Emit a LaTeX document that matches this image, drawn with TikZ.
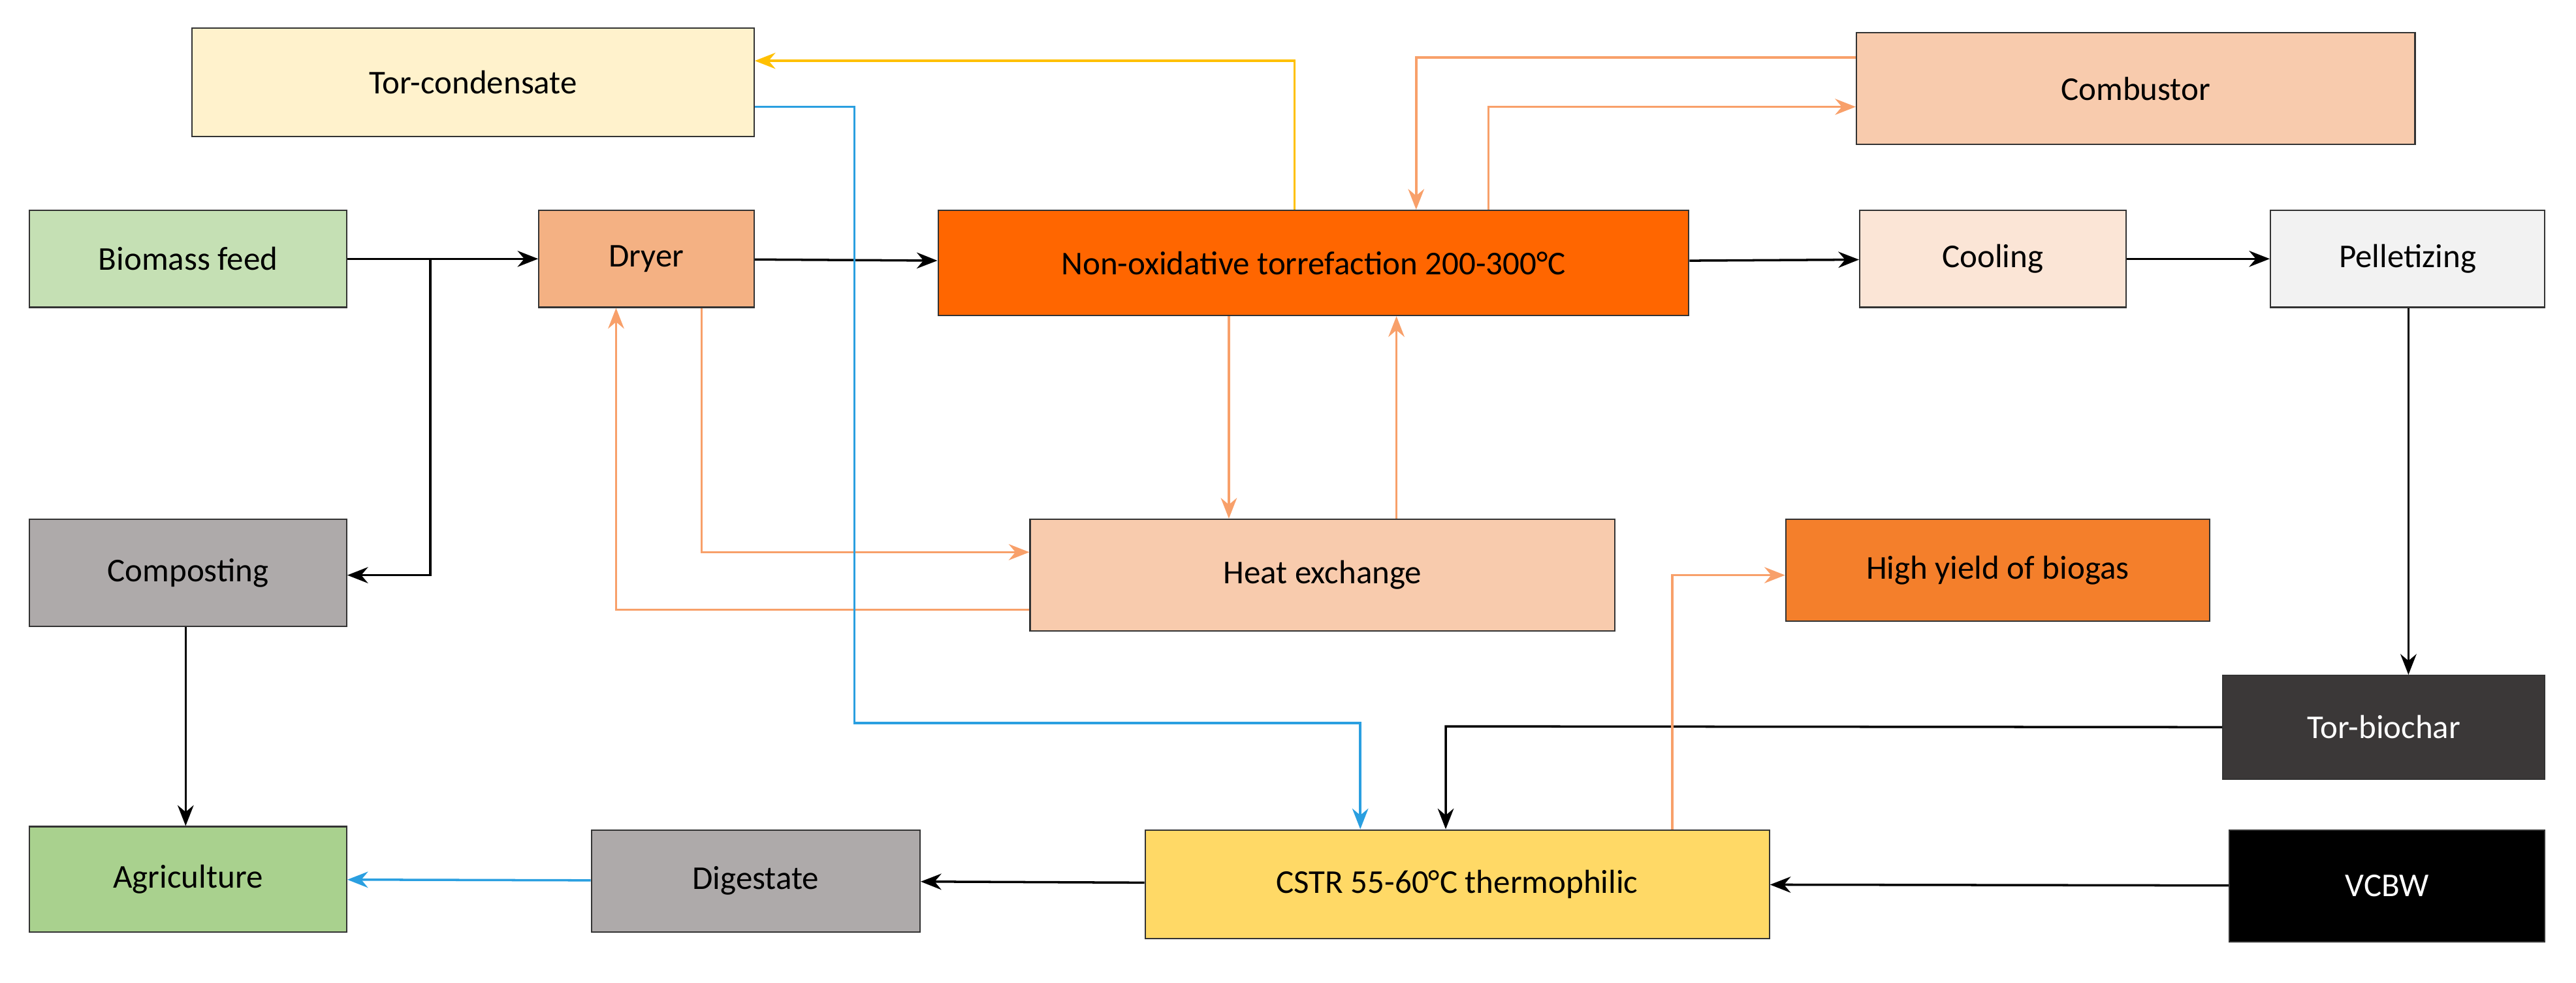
\documentclass[tikz,border=0pt]{standalone}
\usepackage{fontspec}
\setmainfont{Carlito}
\usetikzlibrary{arrows.meta}
\definecolor{arrO}{HTML}{F8A06A}
\definecolor{arrY}{HTML}{FFC000}
\definecolor{arrB}{HTML}{2A9FE0}
\definecolor{cA}{HTML}{FFF2CC}\definecolor{cB}{HTML}{F8CBAD}\definecolor{cC}{HTML}{C5E0B4}
\definecolor{cD}{HTML}{F4B183}\definecolor{cE}{HTML}{FF6600}\definecolor{cF}{HTML}{FBE5D6}
\definecolor{cG}{HTML}{F2F2F2}\definecolor{cH}{HTML}{AEAAAA}\definecolor{cI}{HTML}{F47F2B}
\definecolor{cJ}{HTML}{3B3838}\definecolor{cK}{HTML}{A9D18E}\definecolor{cL}{HTML}{FFD966}
\begin{document}
\begin{tikzpicture}[x=0.02516cm,y=-0.02516cm,
  box/.style={draw=black!80,line width=0.6pt,inner sep=0pt,font=\fontsize{14.5}{17}\selectfont},
  bk/.style={draw=black,line width=1pt,-{Stealth[length=9pt,width=7pt]}},
  ow/.style={draw=arrO,line width=1pt,-{Stealth[length=9pt,width=7pt]}},
  yw/.style={draw=arrY,line width=1pt,-{Stealth[length=9pt,width=7pt]}},
  bw/.style={draw=arrB,line width=1pt,-{Stealth[length=9pt,width=7pt]}}]
\newcommand\bx[7][black]{\node[box,fill=#6,text=#1,minimum width={(#4-#2)*0.02516cm},minimum height={(#5-#3)*0.02516cm}] (#7) at ({(#2+#4)/2},{(#3+#5)/2})}
\useasboundingbox (0,0) rectangle (1568,598);
\bx{117}{17}{459}{83}{cA}{tc} {Tor-condensate};
\bx{1130}{20}{1470}{88}{cB}{comb} {Combustor};
\bx{18}{128}{211}{187}{cC}{bf} {Biomass feed};
\bx{328}{128}{459}{187}{cD}{dry} {Dryer};
\bx{571}{128}{1028}{192}{cE}{tor} {Non-oxidative torrefaction 200-300°C};
\bx{1132}{128}{1294}{187}{cF}{cool} {Cooling};
\bx{1382}{128}{1549}{187}{cG}{pel} {Pelletizing};
\bx{18}{316}{211}{381}{cH}{comp} {Composting};
\bx{627}{316}{983}{384}{cB}{hx} {Heat exchange};
\bx{1087}{316}{1345}{378}{cI}{bio} {High yield of biogas};
\bx[white]{1353}{411}{1549}{474}{cJ}{tb} {Tor-biochar};
\bx{18}{503}{211}{567}{cK}{agr} {Agriculture};
\bx{360}{505}{560}{567}{cH}{dig} {Digestate};
\bx{697}{505}{1077}{571}{cL}{cstr} {CSTR 55-60°C thermophilic};
\bx[white]{1357}{505}{1549}{573}{black}{vc} {VCBW};
\foreach \n/\x in {a262/262,a427/427,a375/375,a748/748,a850/850,a788/788,a862/862,a906/906,a880/880,a828/828,a1018/1018,a520/520,a113/113,a1466/1466}{\coordinate (\n) at (\x,0);}
\draw[bk] (bf) -- (dry);
\draw[bk] (262,157) -- (262,350) -- (comp.east |- 0,350);
\draw[bk] (dry) -- (tor);
\draw[bk] (tor) -- (cool);
\draw[bk] (cool) -- (pel);
\draw[bk] (pel.south -| a1466) -- (tb.north -| a1466);
\draw[bk] (tb.west) -- (880,442) -- (cstr.north -| a880);
\draw[bk] (vc) -- (cstr);
\draw[bk] (cstr) -- (dig);
\draw[bw] (dig) -- (agr);
\draw[bk] (comp.south -| a113) -- (agr.north -| a113);
\draw[yw] (tor.north -| a788) -- (788,37) -- (tc.east |- 0,37);
\draw[ow] (comb.west |- 0,35) -- (862,35) -- (tor.north -| a862);
\draw[ow] (tor.north -| a906) -- (906,65) -- (comb.west |- 0,65);
\draw[ow] (tor.south -| a748) -- (hx.north -| a748);
\draw[ow] (hx.north -| a850) -- (tor.south -| a850);
\draw[ow] (dry.south -| a427) -- (427,336) -- (hx.west |- 0,336);
\draw[ow] (hx.west |- 0,371) -- (375,371) -- (dry.south -| a375);
\draw[ow] (cstr.north -| a1018) -- (1018,350) -- (bio.west |- 0,350);
\draw[bw] (tc.east |- 0,65) -- (520,65) -- (520,440) -- (828,440) -- (cstr.north -| a828);
\end{tikzpicture}
\end{document}
